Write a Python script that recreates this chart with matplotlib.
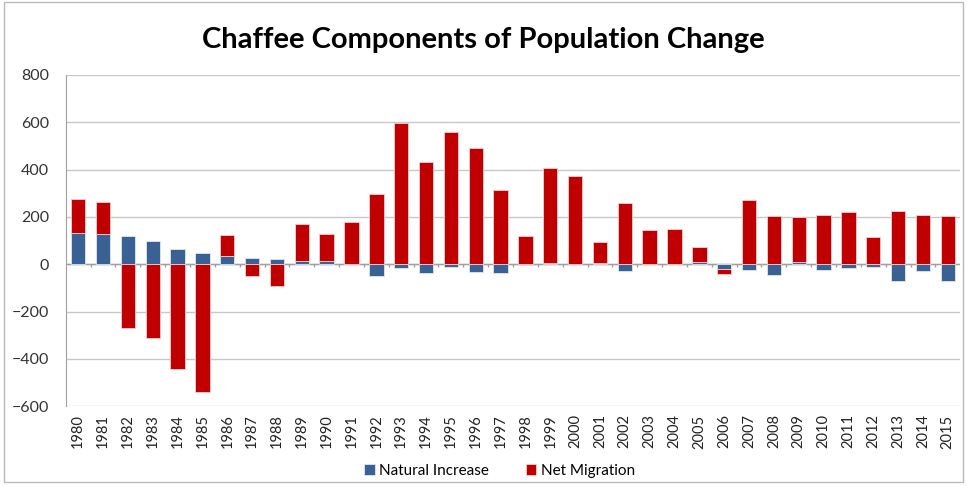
import numpy as np
import matplotlib.pyplot as plt
from matplotlib.patches import Rectangle

plt.rcParams['font.family'] = ['Lato', 'DejaVu Sans']

years = [str(y) for y in range(1980, 2016)]
natural = [130, 127, 120, 100, 66, 47, 35, 25, 21, 13, 13, 3,
           -48, -18, -35, -10, -32, -35, -4, 7, 1, 7, -30, 1,
           1, 8, -21, -25, -45, 10, -23, -16, -10, -73, -30, -69]
migration = [146, 135, -268, -313, -444, -541, 89, -51, -93, 155, 115, 175,
             295, 598, 431, 558, 491, 314, 118, 399, 373, 89, 257, 144,
             148, 65, -20, 272, 203, 189, 209, 221, 114, 224, 209, 203]

blue = '#3A6194'
red = '#C00000'

nat = np.array(natural, dtype=float)
mig = np.array(migration, dtype=float)
x = np.arange(len(years))

# excel-style stacking: positives on positives, negatives on negatives
mig_base = np.where(mig >= 0, np.clip(nat, 0, None), np.clip(nat, None, 0))

fig = plt.figure(figsize=(9.67, 4.87), dpi=100)
ax = fig.add_axes([0.068, 0.166, 0.925, 0.680])

w = 0.58
ax.bar(x, nat, w, color=blue, edgecolor='#dfe6ef', linewidth=0.6,
       label='Natural Increase', zorder=3)
ax.bar(x, mig, w, bottom=mig_base, color=red, edgecolor='#f2d0d0',
       linewidth=0.6, label='Net Migration', zorder=3)

ax.set_xlim(-0.5, len(years) - 0.5)
ax.set_ylim(-600, 800)
ax.set_yticks(range(-600, 801, 200))
ax.grid(axis='y', color='#c8c8c8', linewidth=1.0, zorder=0)
ax.set_axisbelow(True)

# zero axis with hanging ticks between categories
ax.axhline(0, color='#a0a0a0', linewidth=1.0, zorder=2)
ax.vlines(x[:-1] + 0.5, -12, 0, color='#a0a0a0', linewidth=1.0, zorder=2)

ax.set_xticks(x)
ax.set_xticklabels(years, rotation=90, fontsize=10.5, color='#222222')
ax.tick_params(axis='x', length=0, pad=6)
ax.tick_params(axis='y', length=0, labelsize=11.5, labelcolor='#333333', pad=12)

for s in ['top', 'right', 'bottom']:
    ax.spines[s].set_visible(False)
ax.spines['left'].set_color('#a0a0a0')

fig.text(0.5, 0.918, 'Chaffee Components of Population Change',
         ha='center', va='center', fontsize=21, fontweight='bold')

ax.legend(loc='center', bbox_to_anchor=(0.485, -0.195), ncol=2,
          frameon=False, fontsize=11, handlelength=0.7, handleheight=0.7,
          columnspacing=2.4, handletextpad=0.3)

fig.patches.append(Rectangle((0.004, 0.01), 0.992, 0.985, transform=fig.transFigure,
                             fill=False, edgecolor='#bbbbbb', linewidth=1.0))

fig.savefig('out.png', dpi=100)
